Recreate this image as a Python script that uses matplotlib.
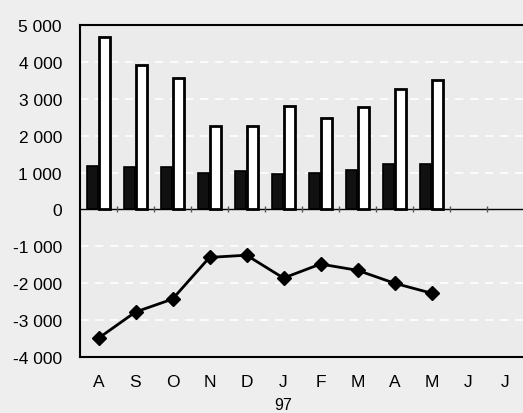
import matplotlib.pyplot as plt
import numpy as np

# months, Aug 96 .. Jul 97
months = ["A", "S", "O", "N", "D", "J", "F", "M", "A", "M", "J", "J"]
dark_vals = [1190, 1160, 1160, 1000, 1050, 950, 1000, 1080, 1240, 1240]
white_vals = [4680, 3920, 3570, 2270, 2270, 2810, 2490, 2780, 3270, 3510]
line_vals = [-3490, -2780, -2430, -1300, -1240, -1860, -1480, -1650, -2000, -2270]
yticks = [5000, 4000, 3000, 2000, 1000, 0, -1000, -2000, -3000, -4000]
ytick_labels = ["5 000", "4 000", "3 000", "2 000", "1 000", "0",
                "-1 000", "-2 000", "-3 000", "-4 000"]

plt.rcParams["font.family"] = ["Liberation Sans", "DejaVu Sans"]

fig = plt.figure(figsize=(5.23, 4.14), dpi=100, facecolor="#eeeeee")
ax = fig.add_axes([80 / 523, 56 / 414, 444 / 523, 332 / 414])
ax.set_facecolor("#ebebeb")

x = np.arange(len(dark_vals))
w = 0.31
ax.bar(x - w / 2 - 0.01, dark_vals, width=w, color="#111111", edgecolor="black", linewidth=1.2, zorder=3)
ax.bar(x + w / 2 + 0.01, white_vals, width=w, color="white", edgecolor="black", linewidth=2, zorder=3)
ax.plot(x, line_vals, color="black", linewidth=2, marker="D", markersize=7.5, zorder=4)

ax.axhline(0, color="black", linewidth=1, zorder=2)
# small tick marks on the zero line between months
ax.plot(np.arange(len(months)) + 0.5, [0] * len(months), linestyle="none",
        marker="|", color="#555555", markersize=5, zorder=2)
for g in [4000, 3000, 2000, 1000, -1000, -2000, -3000]:
    ax.axhline(g, color="white", linewidth=1.2, linestyle=(0, (5, 4)), zorder=1)

ax.set_xlim(-0.5, len(months) - 0.5)
ax.set_ylim(-4000, 5000)
ax.set_yticks(yticks)
ax.set_yticklabels(ytick_labels, fontsize=12.5)
ax.set_xticks(np.arange(len(months)))
ax.set_xticklabels(months, fontsize=12.5)
ax.tick_params(axis="y", length=0, pad=13)
ax.tick_params(axis="x", length=0, pad=12)
ax.text(5, -5080, "97", ha="center", va="top", fontsize=11.5)

for s in ["left", "top", "bottom"]:
    ax.spines[s].set_linewidth(1.5)
ax.spines["right"].set_visible(False)

fig.savefig("out.png", dpi=100, facecolor=fig.get_facecolor())
